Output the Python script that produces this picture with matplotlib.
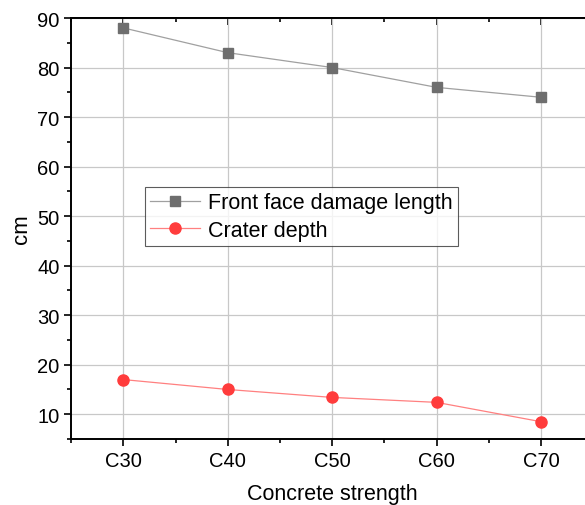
import matplotlib
matplotlib.use("Agg")
import matplotlib.pyplot as plt
from matplotlib.ticker import MultipleLocator

plt.rcParams['font.family'] = ['Liberation Sans', 'DejaVu Sans']

grades = ['C30', 'C40', 'C50', 'C60', 'C70']
front_damage = [88, 83, 80, 76, 74]
crater_depth = [17, 15, 13.4, 12.4, 8.5]

fig = plt.figure(figsize=(5.85, 5.06), dpi=100)
ax = fig.add_axes([0.1219, 0.1304, 0.892, 0.832])

x = list(range(len(grades)))
ax.plot(x, front_damage, color='#a0a0a0', lw=0.9, marker='s', ms=7,
        mfc='#6e6e6e', mec='#6e6e6e', label='Front face damage length', zorder=3)
ax.plot(x, crater_depth, color='#ff8080', lw=0.9, marker='o', ms=8,
        mfc='#ff3c3c', mec='#ff3c3c', label='Crater depth', zorder=3)

ax.set_xlim(-0.5, 4.5)
ax.set_ylim(5, 90)
ax.set_xticks(x)
ax.set_xticklabels(grades)
ax.xaxis.set_minor_locator(MultipleLocator(0.5))
ax.yaxis.set_major_locator(MultipleLocator(10))
ax.yaxis.set_minor_locator(MultipleLocator(5))
ax.grid(True, which='major', color='#c8c8c8', lw=0.9)
ax.set_axisbelow(True)

ax.tick_params(which='both', direction='out', labelsize=14.5, width=1.2)
ax.tick_params(which='major', length=5)
ax.tick_params(which='minor', length=3)
# inward ticks on the top and right spines
ax2 = ax.secondary_xaxis('top')
ax2.set_xticks(x)
ax2.set_xticklabels([])
ax2.xaxis.set_minor_locator(MultipleLocator(0.5))
ax2.tick_params(which='both', direction='in', width=1.2)
ax2.tick_params(which='major', length=5)
ax2.tick_params(which='minor', length=3)
ax2.spines['top'].set_linewidth(1.4)
ax3 = ax.secondary_yaxis('right')
ax3.yaxis.set_major_locator(MultipleLocator(10))
ax3.yaxis.set_minor_locator(MultipleLocator(5))
ax3.set_yticklabels([])
ax3.tick_params(which='both', direction='in', width=1.2)
ax3.tick_params(which='major', length=5)
ax3.tick_params(which='minor', length=3)
for s in ax.spines.values():
    s.set_linewidth(1.4)

ax.set_xlabel('Concrete strength', fontsize=15.5)
ax.xaxis.set_label_coords(0.5, -0.104)
ax.set_ylabel('cm', fontsize=16)
ax.yaxis.set_label_coords(-0.075, 0.5)

leg = ax.legend(loc='upper left', bbox_to_anchor=(0.141, 0.5986), borderaxespad=0,
                fontsize=15.5, frameon=True, fancybox=False, edgecolor='#333333',
                handlelength=2.3, borderpad=0.25, labelspacing=0.3, handletextpad=0.4)
leg.get_frame().set_linewidth(0.8)

fig.savefig('out.png', dpi=100)
